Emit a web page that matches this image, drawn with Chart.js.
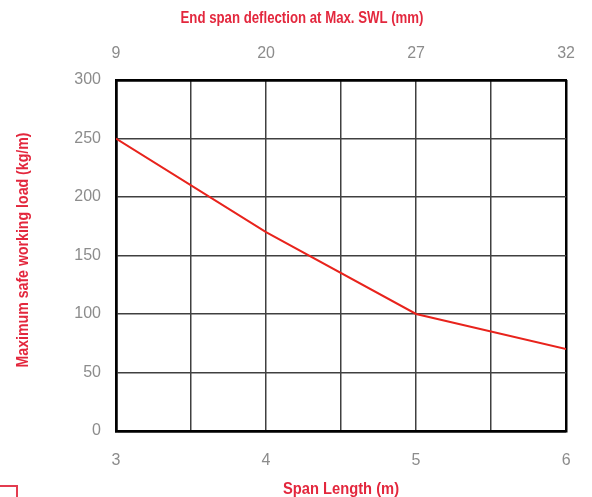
<!DOCTYPE html>
<html><head><meta charset="utf-8">
<script src="https://cdn.jsdelivr.net/npm/chart.js@4"></script>
<style>
html,body{margin:0;padding:0;background:#fff;overflow:hidden}
#wrap{position:relative;width:592px;height:497px}
#mark{position:absolute;left:-10px;top:485px;width:24px;height:30px;border:2px solid #e33b4f}
</style></head><body>
<div id="wrap"><canvas id="c" width="592" height="497"></canvas><div id="mark"></div></div>
<script>
const spanLengths = [3, 4, 5, 6];
const maxLoads = [250, 170, 100, 70];
const deflectionLabels = ['9', '20', '27', '32'];
const xTitle = 'Span Length (m)';
const yTitle = 'Maximum safe working load (kg/m)';
const topTitle = 'End span deflection at Max. SWL (mm)';

const red = '#e3273d';
const lineRed = '#e8231c';
const tickGray = '#8c8c8c';
const tickFont = {family: '"Liberation Sans", Arial, sans-serif', size: 16};

const gridW = ctx => (ctx.index === 0 || ctx.index === 6) ? 2.5 : 1.5;
const gridC = ctx => (ctx.index === 0 || ctx.index === 6) ? '#000' : '#404040';

// Condensed bold axis titles (the reference uses a narrow bold face)
const condensedTitles = {
  id: 'condensedTitles',
  afterDraw(chart) {
    const ctx = chart.ctx;
    const area = chart.chartArea;
    const items = [
      {text: topTitle, x: 302, y: 19, rot: 0, w: 243},
      {text: xTitle, x: (area.left + area.right) / 2, y: 490, rot: 0, w: 116},
      {text: yTitle, x: 24, y: 250, rot: -Math.PI / 2, w: 235}
    ];
    ctx.save();
    ctx.font = 'bold 16px "Liberation Sans", Arial, sans-serif';
    ctx.fillStyle = red;
    ctx.textAlign = 'center';
    ctx.textBaseline = 'middle';
    items.forEach(it => {
      const m = ctx.measureText(it.text).width;
      ctx.save();
      ctx.translate(it.x, it.y);
      ctx.rotate(it.rot);
      ctx.scale(it.w / m, 1);
      ctx.fillText(it.text, 0, 0);
      ctx.restore();
    });
    ctx.restore();
  }
};

new Chart(document.getElementById('c'), {
  type: 'line',
  data: {
    datasets: [{
      data: spanLengths.map((x, i) => ({x: x, y: maxLoads[i]})),
      borderColor: lineRed,
      borderWidth: 2,
      pointRadius: 0,
      tension: 0,
      fill: false
    }]
  },
  options: {
    responsive: false,
    animation: false,
    layout: {padding: {left: 0, right: 25, top: 0, bottom: 0}},
    plugins: {
      legend: {display: false},
      tooltip: {enabled: false},
      title: {display: false}
    },
    scales: {
      x: {
        type: 'linear', position: 'bottom', min: 3, max: 6,
        ticks: {stepSize: 0.5, color: tickGray, font: tickFont, padding: 20,
          callback: v => Number.isInteger(v) ? String(v) : ''},
        grid: {color: gridC, lineWidth: gridW, drawTicks: false},
        border: {display: true, color: '#000', width: 2.5},
        afterFit: s => { s.height = 66; }
      },
      x2: {
        type: 'linear', position: 'top', min: 3, max: 6,
        ticks: {stepSize: 0.5, color: tickGray, font: tickFont, padding: 17,
          callback: v => Number.isInteger(v) ? deflectionLabels[v - 3] : ''},
        grid: {display: false, drawTicks: false},
        border: {display: true, color: '#000', width: 2.5},
        afterFit: s => { s.height = 80; }
      },
      y: {
        type: 'linear', position: 'left', min: 0, max: 300,
        ticks: {stepSize: 50, color: tickGray, font: tickFont, padding: 15},
        grid: {color: gridC, lineWidth: gridW, drawTicks: false},
        border: {display: true, color: '#000', width: 2.5},
        afterFit: s => { s.width = 116; }
      }
    }
  },
  plugins: [condensedTitles]
});
</script>
</body></html>
